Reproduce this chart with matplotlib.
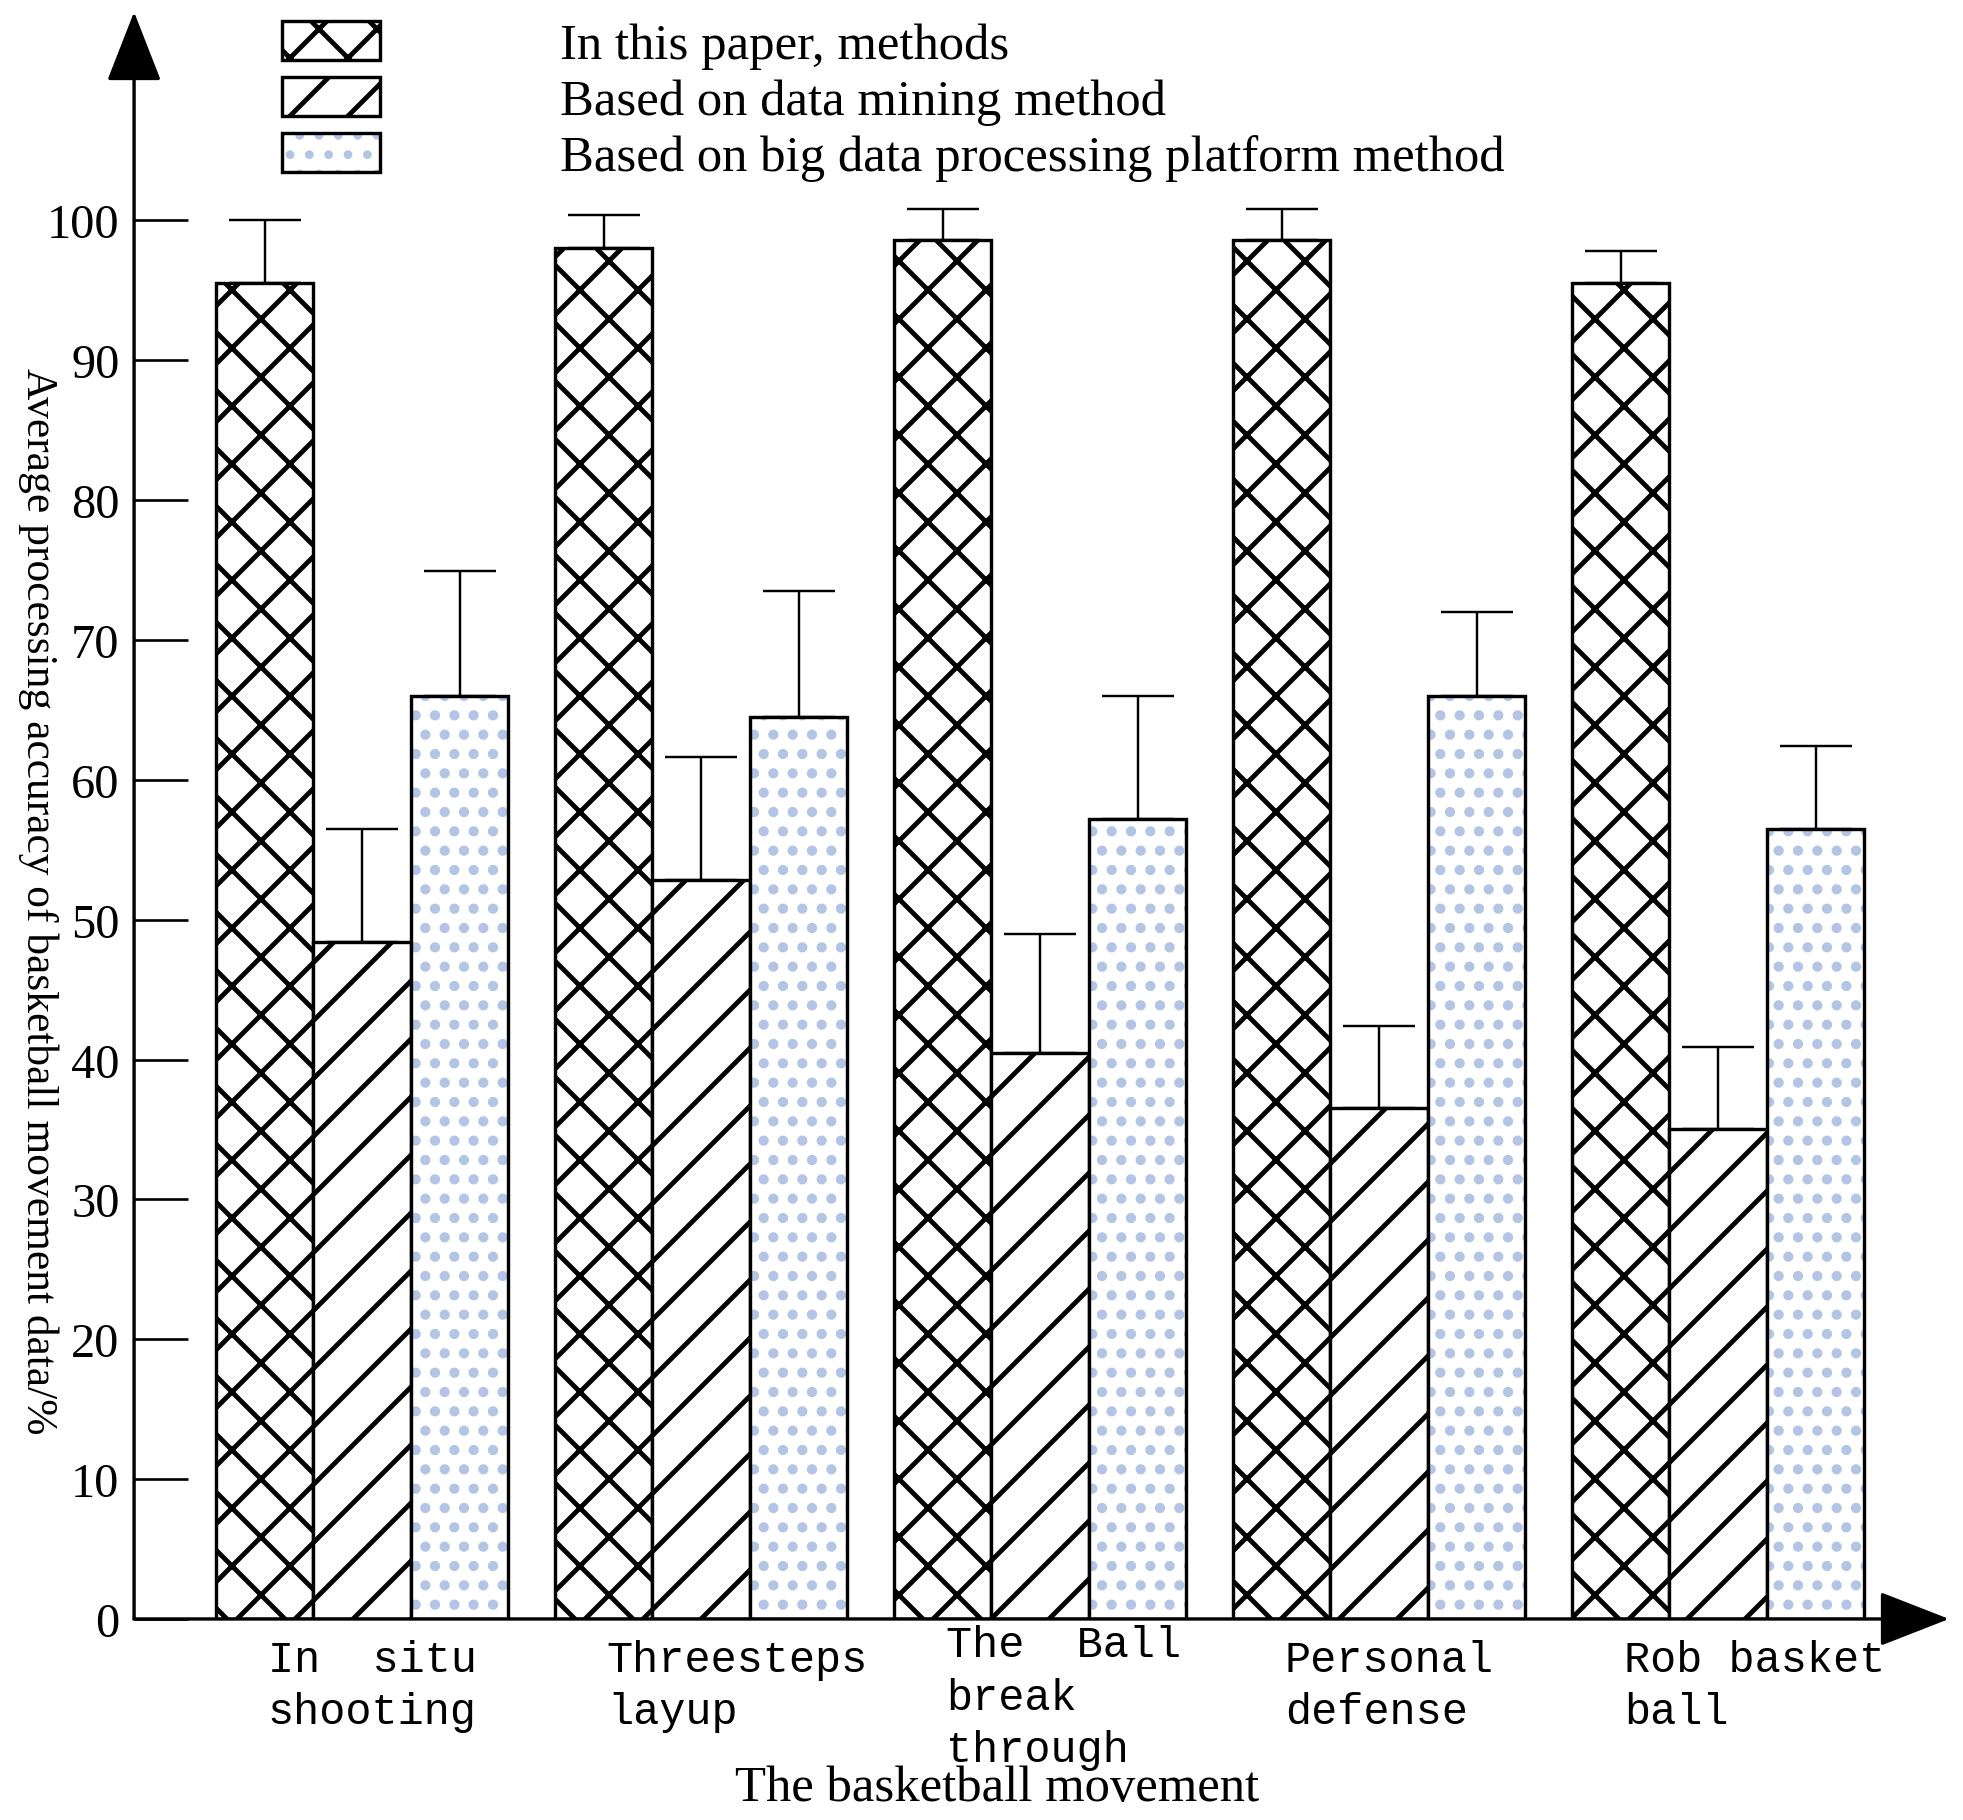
import numpy as np
import matplotlib
matplotlib.use("Agg")
import matplotlib.pyplot as plt
from matplotlib.legend_handler import HandlerTuple
from matplotlib.transforms import ScaledTranslation

movements = ["In  situ\nshooting", "Threesteps\nlayup", "The  Ball\nbreak\nthrough",
             "Personal\ndefense", "Rob basket\nball"]
methods = ["In this paper, methods", "Based on data mining method",
           "Based on big data processing platform method"]

# accuracy (%) and upper error per movement
paper_acc = [95.5, 98.0, 98.6, 98.6, 95.5]
paper_err = [4.5, 2.4, 2.2, 2.2, 2.3]
mining_acc = [48.4, 52.8, 40.5, 36.5, 35.0]
mining_err = [8.1, 8.8, 8.5, 5.9, 5.9]
bigdata_acc = [66.0, 64.5, 57.2, 66.0, 56.5]
bigdata_err = [8.9, 9.0, 8.8, 6.0, 5.9]
yticks = [0, 10, 20, 30, 40, 50, 60, 70, 80, 90, 100]

DPI = 348
plt.rcParams["hatch.linewidth"] = 1.0
plt.rcParams["font.family"] = ["Liberation Serif", "DejaVu Serif"]

fig = plt.figure(figsize=(1963 / DPI, 1821 / DPI), dpi=DPI)
ax = fig.add_axes([0.0683, 0.1104, 0.9929 - 0.0683, 0.9929 - 0.1104])

x = np.arange(len(movements))
w = 0.2876
zeros = np.zeros(len(x))
err_kw = dict(ecolor="black", elinewidth=0.5, capsize=7.5, capthick=0.5)

b1 = ax.bar(x - w, paper_acc, w, yerr=[zeros, paper_err], color="white",
            edgecolor="black", linewidth=0.7, hatch="xx", error_kw=err_kw)
b2 = ax.bar(x, mining_acc, w, yerr=[zeros, mining_err], color="white",
            edgecolor="black", linewidth=0.7, hatch="//", error_kw=err_kw)
# light blue dots need their own layer, the outline stays black
with plt.rc_context({"hatch.linewidth": 1.3}):
    b3 = ax.bar(x + w, bigdata_acc, w, color="white", edgecolor="#b2c5e4",
                linewidth=0, hatch="...")
b3o = ax.bar(x + w, bigdata_acc, w, yerr=[zeros, bigdata_err], fill=False,
             edgecolor="black", linewidth=0.7, error_kw=err_kw)

ax.set_xlim(-0.6726, 4.681)
ax.set_ylim(0, 114.9)
for s in ax.spines.values():
    s.set_visible(False)

arrow = dict(arrowstyle="-|>,head_length=0.64,head_width=0.25", color="black",
             lw=0.7, shrinkA=0, shrinkB=0, mutation_scale=20)
ax.annotate("", xy=(0, 1), xytext=(0, 0), xycoords="axes fraction", arrowprops=arrow)
ax.annotate("", xy=(1, 0), xytext=(0, 0), xycoords="axes fraction", arrowprops=arrow)

ax.set_yticks(yticks)
ax.tick_params(axis="y", direction="in", length=11.2, width=0.55, labelsize=10, pad=3)
ax.set_xticks(x)
ax.set_xticklabels(movements, family=["Liberation Mono", "DejaVu Sans Mono"],
                   fontsize=9, ha="left", linespacing=1.35)
ax.tick_params(axis="x", length=0, pad=2)
for lab in ax.get_xticklabels():
    # two-line labels sit a little lower than the three-line one
    dy = -0.03 if lab.get_text().count("\n") == 1 else 0.012
    lab.set_transform(lab.get_transform() + ScaledTranslation(-0.271, dy, fig.dpi_scale_trans))

fig.legend([b1[0], b2[0], (b3[0], b3o[0])], methods,
           handler_map={tuple: HandlerTuple(ndivide=1, pad=0)},
           loc="upper left", bbox_to_anchor=(0.1437, 0.988), frameon=False,
           fontsize=10.5, handlelength=1.93, handleheight=0.8,
           handletextpad=3.55, labelspacing=0.16, borderpad=0, borderaxespad=0)

fig.text(0.0194, 0.5052, "Average processing accuracy of basketball movement data/%",
         rotation=-90, ha="center", va="center", fontsize=9)
fig.text(0.508, 0.0175, "The basketball movement", ha="center", va="center", fontsize=10.5)

fig.savefig("out.png", dpi=DPI)
